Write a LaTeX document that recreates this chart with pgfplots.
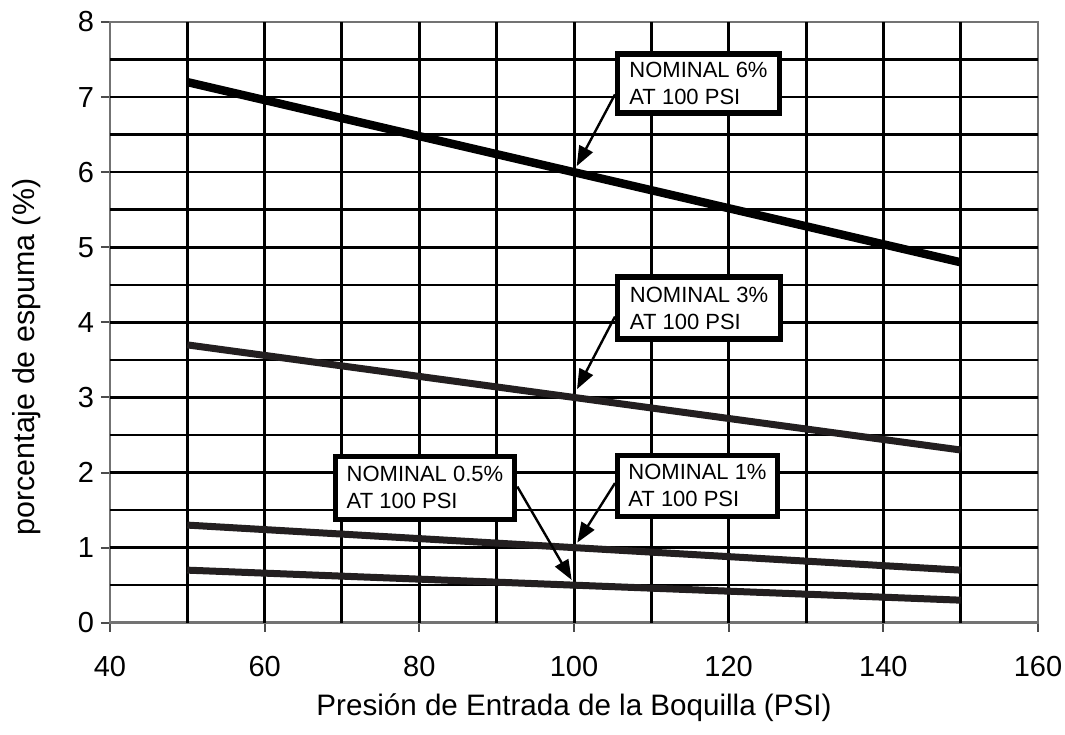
\documentclass[border=0pt]{standalone}
\usepackage{fontspec}
\setmainfont{Liberation Sans}
\usepackage{pgfplots}
\pgfplotsset{compat=1.18}
\usetikzlibrary{arrows.meta}
\definecolor{darkline}{RGB}{35,31,32}
\tikzset{
  box/.style={draw=black, line width=2.8pt, fill=white, align=left, inner sep=0pt, font=\fontsize{11}{13.5}\selectfont},
  arr/.style={draw=black, line width=1.2pt, -{Triangle[length=10pt,width=7.5pt]}},
}
\begin{document}
\begin{tikzpicture}
\begin{axis}[
  at={(0,0)}, anchor=south west,
  scale only axis, width=464pt, height=300.35pt,
  xmin=40, xmax=160, ymin=0, ymax=8,
  xtick={40,60,...,160}, ytick={0,1,...,8},
  tick pos=left,
  tick align=outside,
  major tick length=4.5pt,
  every tick/.style={draw=black!70, line width=1pt},
  axis line style={draw=black!55, line width=1.4pt},
  extra x ticks={50,60,...,150},
  extra y ticks={0.5,1,...,7.5},
  extra x tick labels={},
  extra y tick labels={},
  extra x tick style={grid=major, major tick length=0pt, major grid style={draw=black, line width=1.5pt}},
  extra y tick style={grid=major, major tick length=0pt, major grid style={draw=black, line width=1.3pt}},
  tick label style={font=\fontsize{14.5}{16}\selectfont},
  xticklabel style={yshift=-8.5pt},
  /pgf/number format/assume math mode=true,
  xlabel={Presión de Entrada de la Boquilla (PSI)},
  ylabel={porcentaje de espuma (\%)},
  xlabel style={at={(axis description cs:0.5,-0.1553)}, anchor=base, font=\fontsize{14.8}{16}\selectfont},
  ylabel style={at={(axis description cs:-0.081,0.4423)}, anchor=base, font=\fontsize{15.2}{17}\selectfont},
  clip=false,
]
\addplot[black, line width=4.2pt] coordinates {(50,7.2) (150,4.8)};
\addplot[darkline, line width=3.5pt] coordinates {(50,3.7) (150,2.3)};
\addplot[darkline, line width=3.5pt] coordinates {(50,1.3) (150,0.7)};
\addplot[darkline, line width=3.5pt] coordinates {(50,0.7) (150,0.3)};

\draw[arr] (axis cs:105.3,7.036) -- (axis cs:100.35,6.08);
\draw[arr] (axis cs:105.3,4.077) -- (axis cs:100.39,3.11);
\draw[arr] (axis cs:105.3,1.859) -- (axis cs:100.43,1.067);
\draw[arr] (axis cs:92.67,1.813) -- (axis cs:99.7,0.569);

\node[box, minimum width=81pt, minimum height=29.5pt] at (axis cs:116.1,7.183) {NOMINAL 6\%\\AT 100 PSI};
\node[box, minimum width=81.5pt, minimum height=31pt] at (axis cs:116.17,4.189) {NOMINAL 3\%\\AT 100 PSI};
\node[box, minimum width=80pt, minimum height=30.5pt] at (axis cs:115.97,1.823) {NOMINAL 1\%\\AT 100 PSI};
\node[box, minimum width=89.5pt, minimum height=31.5pt] at (axis cs:80.73,1.796) {NOMINAL 0.5\%\\AT 100 PSI};
\end{axis}
\pgfresetboundingbox
\path[use as bounding box] (-55pt,-55.65pt) rectangle (477.5pt,311.35pt);
\end{tikzpicture}
\end{document}
